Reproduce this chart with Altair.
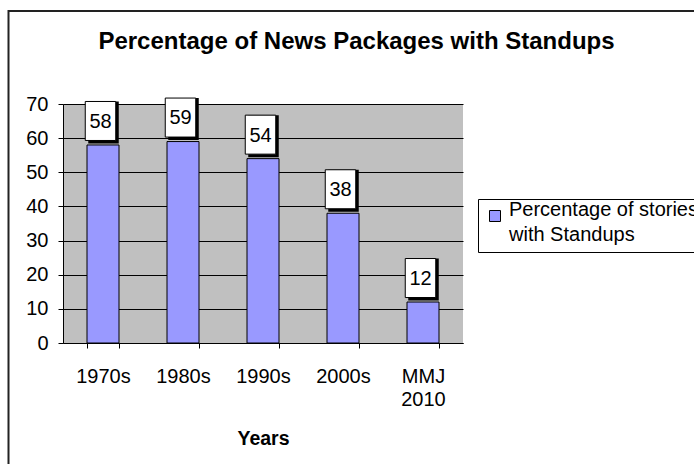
import altair as alt
import pandas as pd

categories = ["1970s", "1980s", "1990s", "2000s", "MMJ 2010"]
values = [58, 59, 54, 38, 12]
series_name = "Percentage of stories with Standups"
title_text = "Percentage of News Packages with Standups"
x_title = "Years"

FONT = "Liberation Sans"
W, H = 400, 239
YMAX = 70
U = YMAX / H  # data units per pixel

df = pd.DataFrame({"period": categories, "pct": values, "series": [series_name] * len(values)})

x_axis = alt.Axis(
    title=x_title,
    titleFontSize=19.5,
    titleFontWeight="bold",
    titleBaseline="alphabetic",
    titleY=101,
    labelExpr="datum.label == 'MMJ 2010' ? ['MMJ', '2010'] : datum.label",
    labelFontSize=20,
    labelAngle=0,
    labelPadding=18,
    labelLineHeight=23.5,
    tickBand="extent",
    tickSize=5,
    tickColor="black",
    domainColor="black",
    labelColor="black",
    titleColor="black",
    grid=False,
)
x_scale = alt.Scale(paddingInner=0.6, paddingOuter=0.3)


def xenc():
    return alt.X("period:N", sort=categories, scale=x_scale, axis=x_axis)


y_scale = alt.Scale(domain=[0, YMAX], nice=False)
y_axis = alt.Axis(
    title=None,
    values=list(range(0, 71, 10)),
    labelFontSize=20,
    labelPadding=10,
    labelOverlap=False,
    tickSize=5,
    tickColor="black",
    domainColor="black",
    grid=True,
    gridColor="black",
    gridOpacity=1,
    labelColor="black",
)

base = alt.Chart(df)

bars = base.mark_bar(stroke="black", strokeWidth=1).encode(
    x=xenc(),
    y=alt.Y("pct:Q", scale=y_scale, axis=y_axis),
    color=alt.Color(
        "series:N",
        scale=alt.Scale(range=["#9999FF"]),
        title=None,
        legend=alt.Legend(
            orient="none",
            legendX=415,
            legendY=95,
            strokeColor="black",
            fillColor="white",
            padding=7,
            symbolType="square",
            symbolSize=121,
            symbolStrokeColor="black",
            symbolStrokeWidth=1,
            symbolOpacity=1,
            labelFontSize=20,
            labelColor="black",
            labelLimit=400,
            labelBaseline="alphabetic",
            labelOffset=4,
            labelExpr="[slice(datum.label, 0, 21), slice(datum.label, 22)]",
        ),
    ),
)

boxes_data = base.transform_calculate(
    lo=f"datum.pct + {4.5 * U}",
    hi=f"datum.pct + {43.5 * U}",
    mid=f"datum.pct + {23.1 * U}",
)

shadow = boxes_data.mark_bar(color="black", width=30.5, xOffset=0.5, yOffset=3).encode(
    x=xenc(), y=alt.Y("lo:Q", scale=y_scale, axis=y_axis), y2="hi:Q"
)
box = boxes_data.mark_bar(color="white", stroke="black", strokeWidth=1, width=30.5, xOffset=-2.5).encode(
    x=xenc(), y=alt.Y("lo:Q", scale=y_scale, axis=y_axis), y2="hi:Q"
)
labels = boxes_data.mark_text(fontSize=20, color="black", baseline="middle", dx=-2.5).encode(
    x=xenc(),
    y=alt.Y("mid:Q", scale=y_scale, axis=y_axis),
    text=alt.Text("pct:Q"),
)

border = alt.Chart(alt.Data(values=[{"a": 1}])).mark_rect(
    fill="white", fillOpacity=0, stroke="#222222", strokeWidth=2
).encode(
    x=alt.value(-54.5), x2=alt.value(700), y=alt.value(-93), y2=alt.value(420)
)

chart = (
    alt.layer(border, bars, shadow, box, labels)
    .properties(
        width=W,
        height=H,
        autosize=alt.AutoSizeParams(type="none"),
        padding={"left": 63, "top": 104, "right": 231, "bottom": 121},
        background="white",
        title=alt.TitleParams(
            title_text,
            fontSize=24,
            fontWeight="bold",
            font=FONT,
            anchor="middle",
            frame="group",
            dx=93.5,
            offset=-44,
            color="black",
        ),
    )
    .configure(font=FONT, style={"guide-label": {"lineHeight": 25}})
    .configure_view(fill="#C0C0C0", stroke=None)
)

chart.save("out.html", embed_options={"renderer": "svg", "actions": False})
